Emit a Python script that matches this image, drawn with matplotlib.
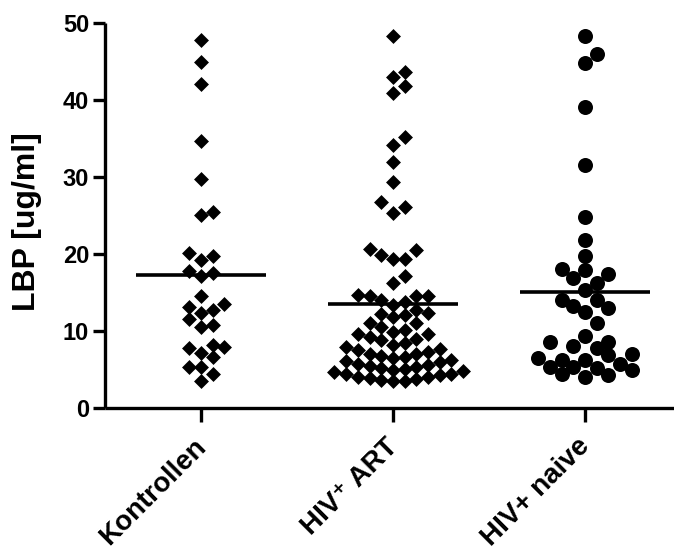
import matplotlib
matplotlib.use("Agg")
import matplotlib.pyplot as plt
import matplotlib.transforms as mtransforms
import numpy as np

plt.rcParams['font.family'] = ['Liberation Sans', 'DejaVu Sans']
plt.rcParams['font.weight'] = 'bold'

groups = ["Kontrollen", "HIV\u207a ART", "HIV+ naive"]

kontrollen = [47.8, 44.9, 42.0, 34.6, 29.7, 25.5, 25.0, 20.2, 19.7, 19.2,
              17.2, 17.5, 17.8, 14.6, 13.5, 13.1, 12.7, 12.3, 11.6, 10.6,
              10.8, 8.0, 8.2, 7.8, 7.2, 6.6, 5.3, 5.4, 4.5, 3.5]

hiv_art = [48.3, 43.6, 43.0, 41.8, 40.9, 35.2, 34.1, 32.0, 29.4, 26.7,
           26.1, 25.3, 20.6, 20.5, 19.9, 19.3, 19.3, 17.2, 16.2, 14.7,
           14.6, 14.5, 14.5, 14.1, 13.8, 13.4, 12.7, 12.3, 12.2, 12.1,
           11.9, 11.0, 11.0, 9.6,
           10.5, 10.2, 9.9, 9.6, 9.3, 9.0, 8.8, 8.5, 8.2, 7.9,
           7.7, 7.5, 7.3, 7.1, 7.0, 6.8, 6.6, 6.5, 6.3, 6.1,
           6.0, 5.8, 5.6, 5.5, 5.3, 5.2, 5.1, 5.0, 4.8, 4.7,
           4.5, 4.4, 4.3, 4.1, 4.0, 3.9, 3.8, 3.7, 3.6, 3.5]

hiv_naive = [48.3, 46.0, 44.8, 39.1, 31.5, 24.8, 21.8, 19.7, 18.0, 17.9,
             17.4, 16.9, 16.3, 15.3, 14.1, 14.0, 13.3, 13.0, 12.5, 11.0,
             9.4, 8.6, 8.6, 8.1, 7.8, 7.0, 6.9, 6.5, 6.3, 6.3,
             5.8, 5.4, 5.4, 5.2, 5.0, 4.5, 4.3, 4.1]

y_ticks = [0, 10, 20, 30, 40, 50]


def swarm_x(ax, xc, values, size_px, step_px, shape):
    """Spread points sideways in pixel space so the markers don't pile up."""
    values = np.asarray(values, dtype=float)
    pts = ax.transData.transform(np.column_stack([np.full(len(values), xc), values]))
    xs = pts[:, 0].copy()
    candidates = [0]
    for k in range(1, 30):
        candidates += [k, -k]
    placed = []
    for i in np.argsort(values, kind="stable"):
        x0, y0 = pts[i]
        for k in candidates:
            x = x0 + k * step_px
            ok = True
            for px, py in placed:
                dx, dy = abs(x - px), abs(y0 - py)
                d = dx + dy if shape == "D" else np.hypot(dx, dy)
                if d < size_px:
                    ok = False
                    break
            if ok:
                break
        placed.append((x, y0))
        xs[i] = x
    back = ax.transData.inverted().transform(np.column_stack([xs, pts[:, 1]]))
    return back[:, 0]


fig = plt.figure(figsize=(6.74, 5.51), dpi=100)
ax = fig.add_axes([105 / 674, 1 - 408.3 / 551, 569 / 674, 385.6 / 551])
ax.set_xlim(0.5, 3.464)
ax.set_ylim(0, 50)

for side in ("top", "right"):
    ax.spines[side].set_visible(False)
for side in ("left", "bottom"):
    ax.spines[side].set_linewidth(2.4)
    ax.spines[side].set_capstyle("butt")

series = [(kontrollen, "D", 7.6 ** 2), (hiv_art, "D", 7.6 ** 2), (hiv_naive, "o", 10.8 ** 2)]
for pos, (vals, marker, size) in enumerate(series, start=1):
    limit = 11 if marker == "D" else 13
    xs = swarm_x(ax, pos, vals, limit, 11.7, marker)
    ax.scatter(xs, vals, marker=marker, s=size, color="black", linewidths=0, zorder=3)
    ax.hlines(np.mean(vals), pos - 0.34, pos + 0.34, color="black", linewidth=2.6, zorder=4)

ax.set_yticks(y_ticks)
ax.tick_params(axis="y", direction="out", length=8.5, width=2.4, pad=3, labelsize=17)
ax.set_xticks([1, 2, 3])
ax.set_xticklabels(groups, rotation=45, ha="right", va="top", rotation_mode="anchor", fontsize=20)
ax.tick_params(axis="x", direction="out", length=10, width=2.4, pad=8)

# nudge the slanted category names a little to the left
shift = mtransforms.ScaledTranslation(-0.08, 0, fig.dpi_scale_trans)
for label in ax.get_xticklabels():
    label.set_transform(label.get_transform() + shift)

ax.set_ylabel("LBP [ug/ml]", fontsize=23, fontweight="bold")
ax.yaxis.set_label_coords(-0.11, 0.483)

fig.savefig("out.png", dpi=100)
